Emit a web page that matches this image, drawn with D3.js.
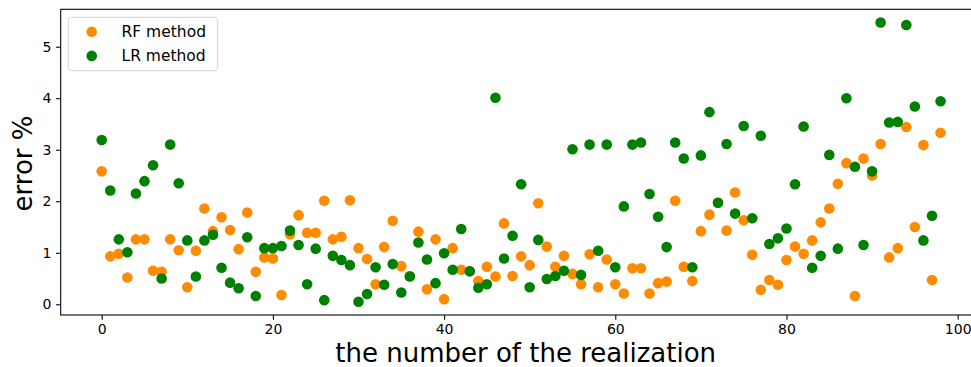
<!DOCTYPE html>
<html>
<head>
<meta charset="utf-8">
<script src="https://cdn.jsdelivr.net/npm/d3@7"></script>
<style>
  html, body { margin: 0; padding: 0; background: #fff; }
  svg { display: block; font-family: "DejaVu Sans", sans-serif; }
</style>
</head>
<body>
<svg id="chart" width="971" height="367"></svg>
<script>
// Error of each realization for the two methods
const realizations = d3.range(0, 99);
const rfError = [
  2.58, 0.93, 0.98, 0.52, 1.26, 1.26, 0.65, 0.63, 1.26, 1.05,
  0.33, 1.04, 1.86, 1.42, 1.69, 1.44, 1.07, 1.78, 0.63, 0.91,
  0.89, 0.18, 1.36, 1.73, 1.39, 1.39, 2.01, 1.26, 1.31, 2.02,
  1.09, 0.88, 0.39, 1.11, 1.62, 0.74, 0.55, 1.41, 0.29, 1.26,
  0.10, 1.09, 0.67, 0.64, 0.45, 0.73, 0.54, 1.57, 0.55, 0.93,
  0.76, 1.96, 1.12, 0.73, 0.94, 0.59, 0.39, 0.97, 0.33, 0.87,
  0.39, 0.21, 0.70, 0.70, 0.21, 0.41, 0.44, 2.01, 0.73, 0.45,
  1.42, 1.74, 1.97, 1.43, 2.17, 1.63, 0.96, 0.28, 0.47, 0.38,
  0.86, 1.12, 0.98, 1.24, 1.59, 1.86, 2.34, 2.74, 0.16, 2.83,
  2.50, 3.11, 0.91, 1.09, 3.44, 1.50, 3.09, 0.47, 3.33
];
const lrError = [
  3.19, 2.21, 1.26, 1.01, 2.15, 2.39, 2.70, 0.50, 3.10, 2.35,
  1.24, 0.54, 1.24, 1.35, 0.71, 0.42, 0.31, 1.30, 0.16, 1.09,
  1.09, 1.13, 1.43, 1.15, 0.39, 1.08, 0.08, 0.94, 0.86, 0.76,
  0.05, 0.20, 0.72, 0.38, 0.78, 0.23, 0.54, 1.20, 0.87, 0.41,
  0.99, 0.67, 1.46, 0.64, 0.32, 0.39, 4.01, 0.89, 1.33, 2.33,
  0.33, 1.25, 0.49, 0.55, 0.65, 3.01, 0.57, 3.10, 1.04, 3.10,
  0.72, 1.90, 3.10, 3.14, 2.14, 1.70, 1.11, 3.14, 2.83, 0.72,
  2.89, 3.73, 1.97, 3.11, 1.76, 3.46, 1.67, 3.27, 1.17, 1.28,
  1.47, 2.33, 3.45, 0.71, 0.94, 2.90, 1.08, 4.00, 2.67, 1.15,
  2.58, 5.47, 3.53, 3.54, 5.42, 3.84, 1.24, 1.72, 3.94
];
const xTicks = [0, 20, 40, 60, 80, 100];
const yTicks = [0, 1, 2, 3, 4, 5];
const seriesNames = ["RF method", "LR method"];
const seriesColors = ["#ff8c00", "#008000"];

const svg = d3.select("#chart");

// Plot frame (right edge runs past the canvas)
const frame = { left: 60.7, right: 982.5, top: 9.3, bottom: 315 };

const x = d3.scaleLinear().domain([-4.79, 102.9]).range([frame.left, frame.right]);
const y = d3.scaleLinear().domain([-0.208, 5.726]).range([frame.bottom, frame.top]);

svg.append("defs").append("clipPath").attr("id", "plotClip")
  .append("rect").attr("x", frame.left).attr("y", frame.top)
  .attr("width", frame.right - frame.left).attr("height", frame.bottom - frame.top);

// Points: RF first, LR on top
const series = [rfError, lrError];
const pts = svg.append("g").attr("clip-path", "url(#plotClip)");
series.forEach((vals, si) => {
  pts.append("g").selectAll("circle")
    .data(realizations)
    .join("circle")
    .attr("cx", d => x(d))
    .attr("cy", d => y(vals[d]))
    .attr("r", 5.3)
    .attr("fill", seriesColors[si]);
});

// Axes
const xAxis = svg.append("g")
  .attr("transform", `translate(0,${frame.bottom})`)
  .call(d3.axisBottom(x).tickValues(xTicks).tickFormat(d3.format("d"))
    .tickSize(4.7).tickPadding(4).tickSizeOuter(0));
const yAxis = svg.append("g")
  .attr("transform", `translate(${frame.left},0)`)
  .call(d3.axisLeft(y).tickValues(yTicks).tickFormat(d3.format("d"))
    .tickSize(4.7).tickPadding(4.5).tickSizeOuter(0));
[xAxis, yAxis].forEach(g => {
  g.select(".domain").remove();
  g.selectAll(".tick line").attr("stroke", "#000").attr("stroke-width", 1.07);
  g.selectAll(".tick text")
    .attr("fill", "#000")
    .style("font-family", "'DejaVu Sans', sans-serif")
    .style("font-size", "14px");
});

// Frame
svg.append("rect")
  .attr("x", frame.left).attr("y", frame.top)
  .attr("width", frame.right - frame.left).attr("height", frame.bottom - frame.top)
  .attr("fill", "none").attr("stroke", "#000").attr("stroke-width", 1.07);

// Axis titles
svg.append("text")
  .attr("x", (x(0) + x(100)) / 2 - 4)
  .attr("y", 362)
  .attr("text-anchor", "middle")
  .style("font-size", "26px")
  .attr("fill", "#000")
  .text("the number of the realization");

svg.append("text")
  .attr("transform", "translate(31.5,163.5) rotate(-90)")
  .attr("text-anchor", "middle")
  .style("font-size", "26px")
  .attr("fill", "#000")
  .text("error %");

// Legend
const legend = svg.append("g");
legend.append("rect")
  .attr("x", 68.3).attr("y", 17.3)
  .attr("width", 149.4).attr("height", 53.4)
  .attr("rx", 3).attr("ry", 3)
  .attr("fill", "#fff").attr("fill-opacity", 0.8)
  .attr("stroke", "#d6d6d6").attr("stroke-width", 1);
seriesNames.forEach((name, i) => {
  const cy = 31.7 + i * 24.2;
  legend.append("circle")
    .attr("cx", 91.7).attr("cy", cy).attr("r", 5.3)
    .attr("fill", seriesColors[i]);
  legend.append("text")
    .attr("x", 121.5).attr("y", cy + 5.3)
    .style("font-size", "15.5px")
    .attr("fill", "#000")
    .text(name);
});
</script>
</body>
</html>
